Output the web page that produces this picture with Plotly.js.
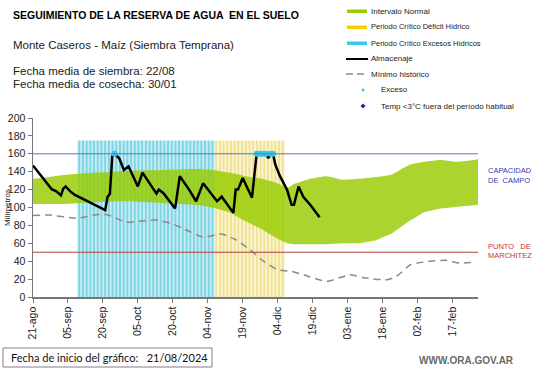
<!DOCTYPE html>
<html><head><meta charset="utf-8">
<script src="https://cdn.plot.ly/plotly-3.0.1.min.js"></script>
<style>html,body{margin:0;padding:0;background:#fff}#chart{width:541px;height:368px}</style>
</head><body><div id="chart"></div>
<script>
// ---------- DATA ----------
const bandDates = ['2024-08-21','2024-08-28','2024-09-04','2024-09-11','2024-09-18','2024-09-25','2024-10-02','2024-10-09','2024-10-16','2024-10-23','2024-10-30','2024-11-06','2024-11-13','2024-11-20','2024-11-27','2024-12-04','2024-12-08','2024-12-11','2024-12-18','2024-12-25','2025-01-01','2025-01-08','2025-01-15','2025-01-22','2025-01-29','2025-02-05','2025-02-12','2025-02-19','2025-02-26','2025-02-28'];
const bandUpper = [132,134,136.5,138,139,140,141,141.5,142,142.5,143,142,139,135,132,127,122,126,132,135,131,132,134,137,147,151,153,151,153,154];
const bandLower = [104,104,104,105,106,107,107,106,105,104,103,100,95,85,76,65,60,59,59,59,60,60,63,71,84,95,99,101,103,103];

const almDates = ['2024-08-21','2024-08-24','2024-08-27','2024-08-29','2024-08-31','2024-09-02','2024-09-03','2024-09-04','2024-09-06','2024-09-08','2024-09-21','2024-09-22','2024-09-23','2024-09-24','2024-09-25','2024-09-27','2024-09-29','2024-10-01','2024-10-05','2024-10-07','2024-10-09','2024-10-12','2024-10-13','2024-10-14','2024-10-16','2024-10-21','2024-10-23','2024-10-27','2024-10-30','2024-11-02','2024-11-04','2024-11-08','2024-11-10','2024-11-15','2024-11-16','2024-11-17','2024-11-19','2024-11-20','2024-11-23','2024-11-24','2024-11-25','2024-11-29','2024-11-30','2024-12-01','2024-12-02','2024-12-03','2024-12-05','2024-12-08','2024-12-10','2024-12-11','2024-12-13','2024-12-15','2024-12-18','2024-12-22'];
const almValues = [147,136.5,127,120.5,118,113.5,121,123.5,118,114,97,112,115,157,160,155,142,146,123.5,139,131,120,115.5,120,116,99,135,120,107,127,120,107,112,94,120,120,133,127,111,136,160,160,155,160,160,148,135,120,103,103,123.5,112,103,89];

const minDates = ['2024-08-21','2024-08-28','2024-09-09','2024-09-17','2024-09-22','2024-09-30','2024-10-07','2024-10-13','2024-10-19','2024-10-24','2024-11-02','2024-11-10','2024-11-16','2024-11-22','2024-11-28','2024-12-04','2024-12-10','2024-12-15','2024-12-25','2025-01-04','2025-01-10','2025-01-20','2025-01-24','2025-01-30','2025-02-06','2025-02-14','2025-02-20','2025-02-27'];
const minValues = [91,91.5,88,92,92,83.5,85,86,82.5,77,67,70.5,64,53,40,30.5,28.5,25,17.5,24.8,21.5,19.2,23,36,39.5,41,38,39];

const excesoDates = ['2024-09-25','2024-11-25','2024-11-26','2024-11-27','2024-11-28','2024-11-29','2024-12-01','2024-12-02'];
const excesoValues = [160,160,160,160,160,160,160,160];

const periodExcesoDates = ['2024-09-09','2024-11-07'];
const periodDeficitDates = ['2024-11-07','2024-12-07'];
const periodTop = 175;
const capacidadCampo = 160;
const puntoMarchitez = 50;

const tickDates = ['2024-08-21','2024-09-05','2024-09-20','2024-10-05','2024-10-20','2024-11-04','2024-11-19','2024-12-04','2024-12-19','2025-01-03','2025-01-18','2025-02-02','2025-02-17'];
const tickLabels = ['21-ago','05-sep','20-sep','05-oct','20-oct','04-nov','19-nov','04-dic','19-dic','03-ene','18-ene','02-feb','17-feb'];
const yTicks = [0,20,40,60,80,100,120,140,160,180,200];
const xRange = ['2024-08-21','2025-02-28'];

// ---------- LAYOUT HELPERS ----------
const W=541,H=368,ML=33,MR=63,MT=118,MB=71;
const PW=W-ML-MR, PH=H-MT-MB;
const px = x => (x-ML)/PW;
const py = y => (H-MB-y)/PH;
const FONT = 'Liberation Sans, Arial, sans-serif';

function periodTrace(d, bg, fg){
  return {type:'scatter', x:[d[0],d[0],d[1],d[1],d[0]], y:[0,periodTop,periodTop,0,0],
    fill:'toself', mode:'none', fillcolor:bg,
    fillpattern:{shape:'|', bgcolor:bg, fgcolor:fg, size:3.7, solidity:0.4},
    hoverinfo:'skip', showlegend:false};
}

const traces = [
  periodTrace(periodExcesoDates, '#c6ecf3', '#6ccfe0'),
  periodTrace(periodDeficitDates, '#fbf5cf', '#eddc86'),
  {type:'scatter', x:bandDates, y:bandLower, mode:'lines', line:{width:0, color:'rgba(0,0,0,0)'}, hoverinfo:'skip', showlegend:false},
  {type:'scatter', x:bandDates, y:bandUpper, mode:'lines', line:{width:0, color:'rgba(0,0,0,0)', shape:'spline', smoothing:0.6}, fill:'tonexty', fillcolor:'rgba(153,204,0,0.82)', name:'Intervalo Normal', showlegend:false},
  {type:'scatter', x:minDates, y:minValues, mode:'lines', line:{color:'#8a8a8a', width:1.5, dash:'7px,5px', shape:'spline', smoothing:0.5}, name:'Mínimo histórico', showlegend:false},
  {type:'scatter', x:almDates, y:almValues, mode:'lines', line:{color:'#000', width:2.5}, name:'Almacenaje', showlegend:false},
  {type:'scatter', x:excesoDates, y:excesoValues, mode:'markers', marker:{color:'#33c8e8', size:6}, name:'Exceso', showlegend:false}
];

const shapes = [
  {type:'line', xref:'paper', x0:0, x1:1, yref:'y', y0:capacidadCampo, y1:capacidadCampo, line:{color:'#5a74c8', width:1}},
  {type:'line', xref:'paper', x0:0, x1:1, yref:'y', y0:puntoMarchitez, y1:puntoMarchitez, line:{color:'#b04040', width:1}},
  // legend swatches
  {type:'rect', xref:'paper', yref:'paper', x0:px(347), x1:px(367), y0:py(13), y1:py(9.5), fillcolor:'#99cc00', line:{width:0}},
  {type:'rect', xref:'paper', yref:'paper', x0:px(347), x1:px(367), y0:py(29), y1:py(25.5), fillcolor:'#ffcc00', line:{width:0}},
  {type:'rect', xref:'paper', yref:'paper', x0:px(347), x1:px(367), y0:py(45), y1:py(41.5), fillcolor:'#33ccee', line:{width:0}},
  {type:'line', xref:'paper', yref:'paper', x0:px(346), x1:px(368), y0:py(59), y1:py(59), line:{color:'#000', width:2}},
  {type:'line', xref:'paper', yref:'paper', x0:px(346), x1:px(368), y0:py(74), y1:py(74), line:{color:'#8a8a8a', width:1.5, dash:'7px,4px'}},
  {type:'circle', xref:'paper', yref:'paper', x0:px(361.5), x1:px(364.5), y0:py(91.5), y1:py(88.5), fillcolor:'#33ccee', line:{width:0}},
  {type:'path', xref:'paper', yref:'paper', path:`M ${px(363)} ${py(103.5)} L ${px(365.5)} ${py(106)} L ${px(363)} ${py(108.5)} L ${px(360.5)} ${py(106)} Z`, fillcolor:'#1a2a9a', line:{width:0}},
  // bottom box
  {type:'rect', xref:'paper', yref:'paper', x0:px(3), x1:px(212), y0:py(367), y1:py(348), fillcolor:'#fff', line:{color:'#8b7b8b', width:1}}
];

function ann(text, x, y, opts){
  return Object.assign({text, xref:'paper', yref:'paper', x:px(x), y:py(y), xanchor:'left', yanchor:'middle', showarrow:false, font:{family:FONT, size:8, color:'#222'}}, opts||{});
}
const blueLab = {font:{family:FONT, size:7.5, color:'#3a3aa8'}};
const redLab = {font:{family:FONT, size:7.5, color:'#c83030'}};
const annotations = [
  ann('<b>SEGUIMIENTO DE LA RESERVA DE AGUA  EN EL SUELO</b>', 11, 15, {font:{family:FONT, size:10.5, color:'#000'}}),
  ann('Monte Caseros - Maíz (Siembra Temprana)', 11, 45, {font:{family:FONT, size:11.5, color:'#222'}}),
  ann('Fecha media de siembra: 22/08', 11, 71, {font:{family:FONT, size:11.5, color:'#222'}}),
  ann('Fecha media de cosecha: 30/01', 11, 84, {font:{family:FONT, size:11.5, color:'#222'}}),
  ann('Intervalo Normal', 369, 11),
  ann('Periodo Crítico Déficit Hídrico', 369, 27, {font:{family:FONT, size:7.5, color:'#222'}}),
  ann('Periodo Crítico Excesos Hídricos', 369, 43, {font:{family:FONT, size:7.5, color:'#222'}}),
  ann('Almacenaje', 369, 59),
  ann('Mínimo histórico', 369, 74),
  ann('Exceso', 379, 90),
  ann('Temp <3°C fuera del período habitual', 379, 106),
  ann('CAPACIDAD', 486, 170.5, blueLab),
  ann('DE\u00a0 CAMPO', 486, 180, blueLab),
  ann('PUNTO\u00a0\u00a0 DE', 486, 246, redLab),
  ann('MARCHITEZ', 486, 255.5, redLab),
  ann('Fecha de inicio del gráfico:\u00a0\u00a0 21/08/2024', 9, 357.5, {font:{family:'Lato, Open Sans, sans-serif', size:11, color:'#111'}}),
  ann('<b>WWW.ORA.GOV.AR</b>', 516, 360, {xanchor:'right', font:{family:FONT, size:10, color:'#6a6a6a'}}),
  ann('Milímetros', 7, 208, {xanchor:'center', textangle:-90, font:{family:FONT, size:8, color:'#222'}})
];

const layout = {
  width:W, height:H, margin:{l:ML, r:MR, t:MT, b:MB, pad:0},
  paper_bgcolor:'#fff', plot_bgcolor:'#fff', showlegend:false,
  font:{family:FONT, size:10, color:'#222'},
  xaxis:{type:'date', range:xRange, tickvals:tickDates, ticktext:tickLabels, tickangle:-90,
    ticks:'outside', ticklen:4, tickcolor:'#777', showline:true, linecolor:'#777', linewidth:1.5,
    showgrid:false, zeroline:false, tickfont:{family:FONT, size:10.5, color:'#222'}, fixedrange:true},
  yaxis:{range:[0,200], tickvals:yTicks, ticks:'outside', ticklen:4, tickcolor:'#777',
    showline:true, linecolor:'#777', linewidth:1.5, showgrid:false, zeroline:false,
    tickfont:{family:FONT, size:10.5, color:'#222'}, fixedrange:true},
  shapes, annotations
};

Plotly.newPlot('chart', traces, layout, {staticPlot:true, displayModeBar:false});
</script>
</body></html>
